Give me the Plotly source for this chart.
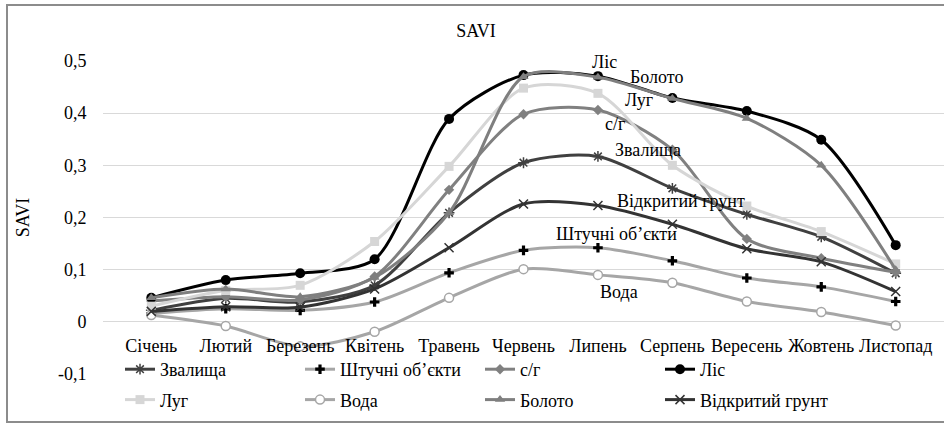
import plotly.graph_objects as go

months = ["Січень", "Лютий", "Березень", "Квітень", "Травень", "Червень",
          "Липень", "Серпень", "Вересень", "Жовтень", "Листопад"]

zvalyshcha = [0.022, 0.045, 0.038, 0.07, 0.209, 0.305, 0.317, 0.256, 0.206, 0.163, 0.093]
shtuchni = [0.016, 0.025, 0.022, 0.038, 0.094, 0.137, 0.142, 0.117, 0.084, 0.067, 0.039]
sg = [0.04, 0.048, 0.042, 0.087, 0.253, 0.398, 0.406, 0.33, 0.159, 0.122, 0.095]
lis = [0.046, 0.08, 0.093, 0.12, 0.389, 0.473, 0.471, 0.429, 0.404, 0.349, 0.147]
luh = [0.03, 0.06, 0.07, 0.154, 0.298, 0.448, 0.438, 0.30, 0.222, 0.173, 0.111]
voda = [0.013, -0.008, -0.047, -0.019, 0.046, 0.101, 0.09, 0.075, 0.039, 0.019, -0.007]
boloto = [0.046, 0.063, 0.048, 0.085, 0.209, 0.47, 0.469, 0.428, 0.39, 0.30, 0.10]
vidkrytyi = [0.02, 0.029, 0.028, 0.063, 0.142, 0.226, 0.223, 0.187, 0.14, 0.115, 0.058]

ytick_vals = [-0.1, 0, 0.1, 0.2, 0.3, 0.4, 0.5]
ytick_text = ["-0,1", "0", "0,1", "0,2", "0,3", "0,4", "0,5"]

FONT = "Times New Roman"
FS = 18

series = [
    ("Звалища", zvalyshcha, "#404040", dict(symbol="asterisk-open", size=9, color="#404040", line=dict(color="#404040", width=1.5)), "legend"),
    ("Штучні об’єкти", shtuchni, "#a6a6a6", dict(symbol="cross", size=8, color="#000000", line=dict(width=0)), "legend2"),
    ("с/г", sg, "#808080", dict(symbol="diamond", size=8, color="#808080", line=dict(width=0)), "legend3"),
    ("Ліс", lis, "#000000", dict(symbol="circle", size=10, color="#000000", line=dict(width=0)), "legend4"),
    ("Луг", luh, "#d6d6d6", dict(symbol="square", size=9, color="#d6d6d6", line=dict(width=0)), "legend"),
    ("Вода", voda, "#a6a6a6", dict(symbol="circle", size=9, color="#ffffff", line=dict(color="#a6a6a6", width=1.5)), "legend2"),
    ("Болото", boloto, "#7f7f7f", dict(symbol="triangle-up", size=9, color="#7f7f7f", line=dict(width=0)), "legend3"),
    ("Відкритий грунт", vidkrytyi, "#333333", dict(symbol="x-thin-open", size=9, color="#333333", line=dict(color="#333333", width=1.5)), "legend4"),
]

fig = go.Figure()
for i, (name, vals, col, mk, lg) in enumerate(series):
    fig.add_trace(go.Scatter(
        x=months, y=vals, name=name, mode="lines+markers",
        line=dict(color=col, width=3, shape="spline", smoothing=0.8),
        marker=mk, legend=lg, legendgroup=name,
    ))

# series labels near the Липень points
label_cfg = {
    "Ліс": (lis, 7, 14, "center"),
    "Болото": (boloto, 30, 0, "left"),
    "Луг": (luh, 25, -7, "left"),
    "с/г": (sg, 5, -14, "left"),
    "Звалища": (zvalyshcha, 15, 6, "left"),
    "Відкритий грунт": (vidkrytyi, 17, 5, "left"),
    "Штучні об’єкти": (shtuchni, 19, 14, "center"),
    "Вода": (voda, 0, -17, "left"),
}
idx = months.index("Липень")
for name, (vals, xs, ys, xa) in label_cfg.items():
    fig.add_annotation(x="Липень", y=vals[idx], text=name, showarrow=False,
                       xanchor=xa, yanchor="middle", xshift=xs, yshift=ys,
                       font=dict(family=FONT, size=FS, color="#000000"))

W, H = 944, 426
L, R, T, B = 103, 944, 61, 374
pw, ph = R - L, B - T

def px2x(px):
    return (px - L) / pw

def py2y(py):
    return (B - py) / ph

legend_common = dict(orientation="v", font=dict(family=FONT, size=FS, color="#000000"),
                     bgcolor="rgba(0,0,0,0)", tracegroupgap=4, itemwidth=30,
                     xanchor="left", yanchor="top", traceorder="grouped")
for key, colpx in [("legend", 120), ("legend2", 300), ("legend3", 480), ("legend4", 660)]:
    fig.update_layout(**{key: dict(legend_common, x=px2x(colpx), y=py2y(351))})

fig.add_shape(type="rect", xref="paper", yref="paper",
              x0=px2x(7), x1=px2x(980), y0=py2y(422), y1=py2y(5),
              line=dict(color="#8c8c8c", width=2), fillcolor="rgba(0,0,0,0)", layer="below")

fig.update_layout(
    width=W, height=H,
    margin=dict(l=L, r=W - R, t=T, b=H - B, autoexpand=False),
    paper_bgcolor="#ffffff", plot_bgcolor="#ffffff",
    font=dict(family=FONT, size=FS, color="#000000"),
    title=dict(text="SAVI", x=476 / W, xref="container", xanchor="center",
               y=1 - 31 / H, yref="container", yanchor="middle",
               font=dict(family=FONT, size=FS, color="#000000")),
    showlegend=True,
)
fig.update_xaxes(
    type="category", showgrid=False, zeroline=False, showline=False,
    ticks="outside", ticklen=7, tickcolor="rgba(0,0,0,0)",
    anchor="free", position=py2y(322), automargin=False,
    tickfont=dict(family=FONT, size=FS, color="#000000"),
)
fig.update_yaxes(
    range=[-0.1, 0.5], tickvals=ytick_vals, ticktext=ytick_text,
    showgrid=True, gridcolor="#d9d9d9", gridwidth=1, zeroline=False,
    showline=False, ticks="outside", ticklen=12, tickcolor="rgba(0,0,0,0)", automargin=False,
    tickfont=dict(family=FONT, size=FS, color="#000000"),
    title=dict(text="SAVI", font=dict(family=FONT, size=FS, color="#000000"), standoff=23),
)

fig.write_html("out.html", config={"displayModeBar": False},
               post_script="document.body.style.margin='0';document.body.style.padding='0';")
